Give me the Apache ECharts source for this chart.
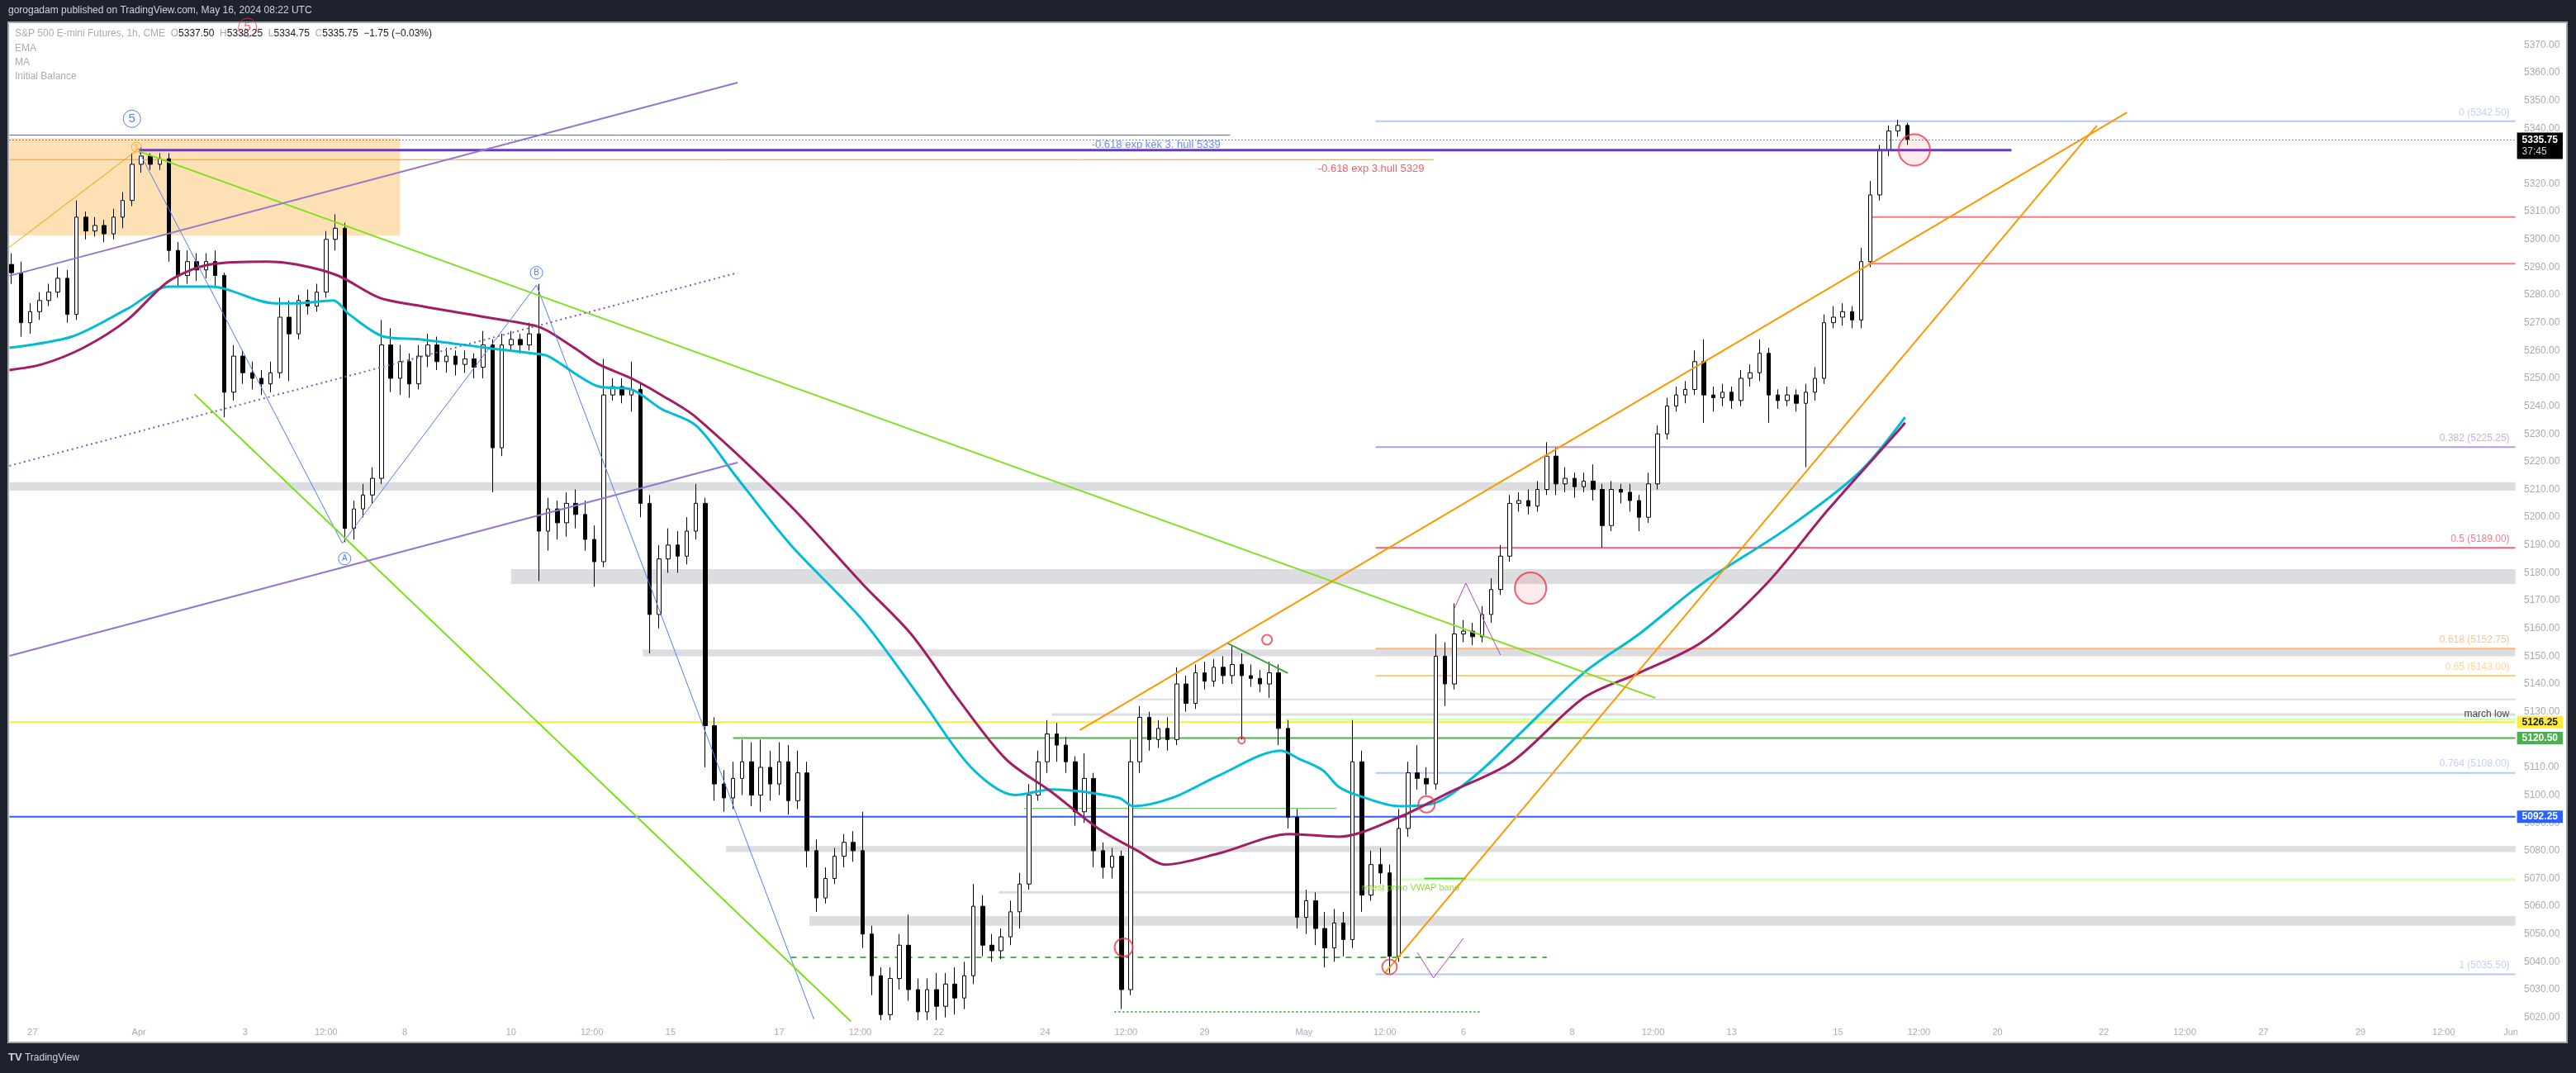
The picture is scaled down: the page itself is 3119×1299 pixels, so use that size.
<!DOCTYPE html>
<html><head><meta charset="utf-8">
<script src="https://cdn.jsdelivr.net/npm/echarts@6/dist/echarts.min.js"></script>
<style>html,body{margin:0;padding:0;background:#1e222d;}#c{width:3119px;height:1299px;}</style>
</head><body><div id="c"></div>
<script>
// ================= DATA =================
const SLOT_COUNT = 1085;      // hourly slots on the time axis (27 Mar .. 3 Jun)
const CANDLE_EVERY = 4;       // one drawn candle per 4 hourly slots
const CANDLE_OFFSET = 1;
const timeTicks = [[10,'27'],[56,'Apr'],[102,'3'],[137,'12:00'],[171,'8'],[217,'10'],[252,'12:00'],[286,'15'],
  [333,'17'],[368,'12:00'],[402,'22'],[448,'24'],[483,'12:00'],[517,'29'],[560,'May'],[595,'12:00'],[629,'6'],
  [676,'8'],[711,'12:00'],[745,'13'],[791,'15'],[826,'12:00'],[860,'20'],[906,'22'],[941,'12:00'],[975,'27'],
  [1017,'29'],[1053,'12:00'],[1082,'Jun']];
// [open, close, low, high]
const ohlc = [
[5291,5288,5284,5295],[5288,5270,5265,5292],[5270,5274,5266,5277],[5274,5278,5271,5281],[5278,5281,5276,5284],
[5281,5286,5279,5290],[5286,5273,5270,5289],[5273,5308,5271,5314],[5308,5303,5300,5310],[5303,5305,5301,5308],
[5305,5302,5299,5307],[5302,5308,5300,5311],[5308,5314,5304,5317],[5314,5327,5312,5331],[5327,5330,5324,5333],
[5330,5327,5325,5331],[5327,5329,5325,5331],[5329,5296,5292,5331],[5296,5287,5283,5299],[5287,5292,5284,5296],
[5292,5289,5285,5295],[5289,5292,5286,5295],[5292,5287,5283,5296],[5287,5245,5236,5288],[5245,5258,5242,5262],
[5258,5252,5248,5260],[5252,5250,5246,5256],[5250,5248,5244,5253],[5248,5252,5245,5256],[5252,5272,5250,5279],
[5272,5266,5249,5278],[5266,5278,5264,5280],[5278,5276,5273,5282],[5276,5281,5274,5284],[5281,5300,5279,5303],
[5300,5304,5296,5309],[5304,5196,5191,5306],[5196,5203,5192,5206],[5203,5208,5200,5212],[5208,5214,5205,5218],
[5214,5262,5212,5271],[5262,5250,5245,5268],[5250,5256,5244,5262],[5256,5248,5243,5259],[5248,5258,5246,5262],
[5258,5262,5254,5266],[5262,5256,5253,5265],[5256,5258,5252,5261],[5258,5255,5251,5260],[5255,5257,5252,5260],
[5257,5254,5250,5259],[5254,5262,5250,5267],[5262,5225,5209,5264],[5225,5262,5222,5266],[5262,5264,5260,5267],
[5264,5262,5259,5266],[5262,5266,5260,5270],[5266,5195,5177,5284],[5195,5203,5188,5207],[5203,5198,5192,5206],
[5198,5205,5193,5209],[5205,5201,5196,5210],[5201,5192,5188,5206],[5192,5184,5175,5197],[5184,5244,5182,5257],
[5244,5247,5242,5250],[5247,5244,5241,5250],[5244,5246,5238,5256],[5246,5205,5200,5248],[5205,5165,5151,5208],
[5165,5185,5160,5190],[5185,5190,5180,5196],[5190,5186,5180,5195],[5186,5195,5183,5200],[5195,5205,5192,5212],
[5205,5125,5110,5207],[5125,5104,5098,5128],[5104,5099,5094,5109],[5099,5106,5095,5112],[5106,5112,5100,5120],
[5112,5100,5096,5119],[5100,5110,5094,5120],[5110,5104,5098,5116],[5104,5112,5100,5119],[5112,5098,5093,5118],
[5098,5108,5095,5116],[5108,5080,5074,5112],[5080,5063,5058,5084],[5063,5070,5061,5074],[5070,5078,5068,5081],
[5078,5083,5074,5086],[5083,5080,5076,5087],[5080,5050,5045,5094],[5050,5035,5028,5053],[5035,5021,5019,5038],
[5021,5034,5019,5038],[5034,5046,5030,5050],[5046,5030,5026,5057],[5030,5022,5019,5034],[5022,5030,5019,5034],
[5030,5024,5019,5036],[5024,5032,5020,5036],[5032,5027,5021,5038],[5027,5035,5023,5040],[5035,5060,5032,5068],
[5060,5046,5042,5064],[5046,5044,5040,5050],[5044,5049,5041,5052],[5049,5058,5046,5062],[5058,5068,5052,5072],
[5068,5100,5066,5104],[5100,5112,5098,5116],[5112,5122,5108,5127],[5122,5118,5112,5126],[5118,5112,5108,5121],
[5112,5094,5089,5114],[5094,5106,5090,5115],[5106,5080,5074,5108],[5080,5074,5070,5083],[5074,5078,5070,5081],
[5078,5030,5023,5080],[5030,5112,5028,5120],[5112,5128,5108,5132],[5128,5120,5116,5130],[5120,5124,5117,5127],
[5124,5120,5116,5128],[5120,5140,5118,5146],[5140,5133,5130,5143],[5133,5144,5131,5147],[5144,5141,5138,5148],
[5141,5146,5139,5149],[5146,5143,5140,5150],[5143,5147,5140,5154],[5147,5143,5120,5151],[5143,5142,5139,5147],
[5142,5140,5137,5145],[5140,5144,5135,5148],[5144,5124,5118,5147],[5124,5092,5088,5127],[5092,5056,5052,5095],
[5056,5062,5050,5066],[5062,5052,5046,5065],[5052,5045,5038,5058],[5045,5054,5040,5059],[5054,5048,5042,5058],
[5048,5112,5045,5127],[5112,5064,5058,5116],[5064,5075,5062,5080],[5075,5072,5068,5081],[5072,5042,5036,5075],
[5042,5088,5040,5095],[5088,5108,5085,5112],[5108,5106,5102,5118],[5106,5104,5100,5110],[5104,5150,5102,5158],
[5150,5140,5132,5155],[5140,5158,5138,5169],[5158,5159,5155,5163],[5159,5157,5154,5162],[5157,5165,5155,5168],
[5165,5174,5162,5178],[5174,5186,5172,5190],[5186,5205,5184,5208],[5205,5206,5202,5209],[5206,5204,5201,5210],
[5204,5210,5202,5213],[5210,5222,5208,5227],[5222,5212,5208,5225],[5212,5214,5209,5218],[5214,5211,5207,5216],
[5211,5213,5209,5216],[5213,5210,5206,5219],[5210,5197,5189,5212],[5197,5210,5195,5213],[5210,5209,5205,5212],
[5209,5206,5202,5212],[5206,5200,5195,5208],[5200,5212,5198,5216],[5212,5230,5210,5233],[5230,5240,5228,5243],
[5240,5244,5238,5247],[5244,5246,5241,5249],[5246,5256,5244,5260],[5256,5244,5234,5264],[5244,5243,5238,5247],
[5243,5245,5240,5248],[5245,5242,5239,5247],[5242,5250,5240,5253],[5250,5252,5247,5255],[5252,5259,5249,5264],
[5259,5244,5234,5261],[5244,5242,5239,5246],[5242,5244,5240,5247],[5244,5241,5238,5246],[5241,5245,5218,5248],
[5245,5250,5242,5254],[5250,5270,5248,5273],[5270,5272,5268,5276],[5272,5274,5269,5277],[5274,5271,5268,5276],
[5271,5292,5268,5297],[5292,5316,5290,5321],[5316,5332,5314,5334],[5332,5339,5330,5341],[5339,5341,5337,5343],
[5341,5336,5334,5342]];
// moving averages [slot, value]
const emaCurve = [[0,5261],[27,5265],[51,5275],[69,5283],[87,5283],[115,5277],[124,5277],[140,5278],[147,5273],
  [162,5265],[178,5264],[206,5261],[226,5259],[233,5258],[246,5251],[255,5247],[269,5246],[282,5239],[297,5233],
  [314,5215],[338,5190],[369,5163],[394,5135],[416,5110],[435,5100],[451,5102],[480,5099],[486,5096],[503,5099],
  [523,5107],[550,5116],[558,5113],[568,5109],[575,5103],[583,5100],[601,5096],[616,5097],[634,5107],[652,5121],
  [681,5144],[705,5158],[732,5176],[769,5196],[800,5216],[820,5236]];
const maCurve = [[0,5253],[14,5255],[32,5261],[51,5271],[69,5285],[87,5291],[111,5292],[124,5291],[142,5287],
  [160,5279],[178,5276],[206,5272],[227,5269],[233,5267],[246,5260],[255,5255],[269,5250],[282,5244],[297,5236],
  [338,5204],[369,5176],[390,5158],[410,5135],[431,5113],[451,5101],[471,5088],[488,5080],[500,5075],[523,5079],
  [554,5086],[575,5085],[601,5092],[623,5101],[650,5112],[681,5135],[705,5144],[732,5155],[760,5176],[787,5203],
  [818,5232],[820,5234]];
const fibLevels = [['0',5342.5],['0.382',5225.25],['0.5',5189],['0.618',5152.75],['0.65',5143],['0.764',5108],['1',5035.5]];
const fibSpan = [591, 1084];
const greyZones = [[0,1084,5209.6,5212.6],[217,1084,5176,5181.3],[274,1084,5150,5152.4],[310,1084,5079.5,5081.7],[346,1084,5053,5056.5]];
const supplyZone = [0,169,5301.4,5336.4];
const levels = {
  kek:[0,528,5337.5], hull:[0,616,5328.7], purple:[56,866,5332.1], last:[0,1084,5335.75],
  redA:[804,1084,5308], redB:[804,1084,5291.25], marchLow:[451,1084,5129], grey5134:[488,1084,5134.4],
  yellow:[0,1084,5126.25], lightGreen:[552,1084,5127.2], green:[313,1084,5120.5], thinGreen:[439,574,5095.2],
  blue:[0,1084,5092.25], grey5065:[428,590,5065], vwap:[596,1084,5069.6], vwapShort:[612,630,5070],
  greenDash:[338,665,5041.6], greenDot:[478,637,5022]
};
const trends = {
  orangeLeft:[[0,5297.2],[56,5332.6]],
  wave:[[56,5331.7],[144,5190.6],[228,5283.6],[348,5019.3]],
  greenUpper:[[56,5331.7],[712,5135.0]], greenLower:[[80,5244.3],[364,5018.6]],
  purpleUpper:[[0,5286.9],[315,5356.4]], purpleMid:[[0,5218.5],[315,5288.0]], purpleLower:[[0,5150.1],[315,5219.7]],
  orangeA:[[463,5123.4],[916,5345.7]], orangeB:[[595,5036.0],[903,5341.0]],
  greenTop:[[527,5154.6],[553,5143.9]],
  zigA:[[625,5167.1],[630,5176.3],[645,5150.4]], zigB:[[609,5043.4],[616,5034.2],[629,5048.5]]
};
const ringMarks = [[544,5155.9],[533,5119.7],[482,5045.2],[613,5096.7],[597,5038.2]];
const dotMarks = [[658,5174.5],[824,5332.2]];
const waveLabels = [['5',53,5343.4],['A',145,5185.1],['B',228,5288.0]];
const fiveMarks = [[55,5333.2],[103,5376.3]];
const notes = [['-0.618 exp kék 3. hull 5339',496,5334.1],['-0.618 exp 3.hull 5329',589,5325.4],['retest prmo VWAP band',583,5066.6]];

// ================= CHART =================
const FONT = 'Liberation Sans';
const tickLabel = {}; timeTicks.forEach(t => tickLabel[t[0]] = t[1]);
const slotNames = Array.from({length: SLOT_COUNT}, (_, i) => 's' + i);
const candleData = ohlc.map((r, i) => [i * CANDLE_EVERY + CANDLE_OFFSET, r[0], r[1], r[2], r[3]]);

function seg(pts, color, width, type, z, extra) {
  return Object.assign({type:'line', data: pts, symbol:'none', showSymbol:false, silent:true,
    lineStyle:{color: color, width: width, type: type || 'solid'}, z: z || 3}, extra || {});
}
function hl(key, color, width, type, z, extra) {
  const l = levels[key];
  return seg([[l[0], l[2]], [l[1], l[2]]], color, width, type, z, extra);
}
function boxLabel(bg, fg) {
  return {endLabel:{show:true, distance:2, formatter: p => p.value[1].toFixed(2), backgroundColor:bg, color:fg,
    padding:[2,6,1,6], fontSize:12, fontFamily:FONT, fontWeight:'bold'}};
}

const series = [];
// zones
series.push({type:'line', data:[[0, 5200]], symbol:'none', showSymbol:false, lineStyle:{opacity:0}, z:1, silent:true,
  markArea:{silent:true, label:{show:false},
    data: greyZones.map(g => [{coord:[g[0], g[3]], itemStyle:{color:'#dcdde0'}}, {coord:[g[1], g[2]]}])
      .concat([[{coord:[supplyZone[0], supplyZone[3]], itemStyle:{color:'#fde0b4'}}, {coord:[supplyZone[1], supplyZone[2]]}]])}});
// fib levels
const fibColors = ['#b4c6fa','#b39ddb','#f35d6e','#fdb37a','#ffcc80','#b4c6fa','#b4c6fa'];
fibLevels.forEach((f, i) => series.push(seg([[fibSpan[0], f[1]], [fibSpan[1], f[1]]], fibColors[i], 2, 'solid', 2)));
series.push({type:'scatter', silent:true, z:6, symbolSize:1, itemStyle:{color:'rgba(0,0,0,0)'},
  data: fibLevels.map((f, i) => ({value:[fibSpan[1], f[1]], label:{show:true, position:'top', align:'right', distance:4,
    offset:[-7, 0], formatter: f[0] + ' (' + f[1].toFixed(2) + ')', color: fibColors[i], fontSize:12, fontFamily:FONT}}))});
// horizontal levels
series.push(hl('redA', '#f7787e', 2, 'solid', 2));
series.push(hl('redB', '#f7787e', 2, 'solid', 2));
series.push(hl('grey5134', '#dcdde0', 2, 'solid', 2));
series.push(hl('marchLow', '#dcdde0', 3, 'solid', 2));
series.push(hl('grey5065', '#dcdde0', 3, 'solid', 2));
series.push(hl('lightGreen', '#d4ffb0', 3, 'solid', 2));
series.push(hl('vwap', '#d4ffb8', 3, 'solid', 2));
series.push(hl('vwapShort', '#4cd137', 2, 'solid', 3));
series.push(hl('thinGreen', '#4caf50', 1, 'solid', 2));
series.push(hl('greenDash', '#4caf50', 2, [7,7], 3));
series.push(hl('greenDot', '#4caf50', 2, [2,3], 3));
series.push(hl('yellow', '#ffeb3b', 2, 'solid', 3, boxLabel('#ffeb3b', '#131722')));
series.push(hl('green', '#4caf50', 2, 'solid', 3, boxLabel('#4caf50', '#ffffff')));
series.push(hl('blue', '#2962ff', 2, 'solid', 3, boxLabel('#2962ff', '#ffffff')));
series.push(hl('kek', '#2962ff', 1, 'solid', 3));
series.push(hl('hull', '#ff9800', 1, 'solid', 3));
series.push(hl('purple', '#673ab7', 3, 'solid', 4));
series.push(hl('last', '#131722', 1, [1,3], 5, {endLabel:{show:true, distance:2, offset:[0,7],
  formatter: p => '{a|' + p.value[1].toFixed(2) + '}\n{b|37:45}', backgroundColor:'#000000', padding:[2,6,2,6],
  rich:{a:{color:'#ffffff', fontWeight:'bold', fontSize:12, fontFamily:FONT, lineHeight:14},
        b:{color:'#d1d4dc', fontSize:12, fontFamily:FONT, lineHeight:14}}}}));
// march low text
series.push({type:'scatter', silent:true, z:6, symbolSize:1, itemStyle:{color:'rgba(0,0,0,0)'},
  data:[{value:[levels.marchLow[1], levels.marchLow[2]], label:{show:true, position:'left', distance:7,
    formatter:'march low', color:'#131722', fontSize:12, fontFamily:FONT}}]});
// candles
series.push({type:'candlestick', data: candleData, encode:{x:0, y:[1,2,3,4]}, barWidth:5, z:3, silent:true,
  itemStyle:{color:'#ffffff', color0:'#000000', borderColor:'#000000', borderColor0:'#000000', borderWidth:1}});
// moving averages
series.push(seg(emaCurve, '#00bcd4', 3, 'solid', 4, {smooth:0.3}));
series.push(seg(maCurve, '#a21d63', 3, 'solid', 4, {smooth:0.3}));
// trend lines
series.push(seg(trends.orangeLeft, '#ff9800', 1, 'solid', 5));
series.push(seg(trends.wave, '#4c7dff', 1, 'solid', 5));
series.push(seg(trends.greenUpper, '#7ee01a', 2, 'solid', 5));
series.push(seg(trends.greenLower, '#7ee01a', 2, 'solid', 5));
series.push(seg(trends.purpleUpper, '#9575cd', 2, 'solid', 5));
series.push(seg(trends.purpleMid, '#7e57c2', 2, [2,4], 5));
series.push(seg(trends.purpleLower, '#9575cd', 2, 'solid', 5));
series.push(seg(trends.orangeA, '#ff9800', 2, 'solid', 5));
series.push(seg(trends.orangeB, '#ff9800', 2, 'solid', 5));
series.push(seg(trends.greenTop, '#43a047', 2, 'solid', 5));
series.push(seg(trends.zigA, '#ab47bc', 1, 'solid', 5));
series.push(seg(trends.zigB, '#ab47bc', 1, 'solid', 5));
// red rings and dots
const ringSizes = [12, 8, 22, 20, 18];
series.push({type:'scatter', silent:true, z:6, data: ringMarks.map((r, i) => ({value:r, symbolSize:ringSizes[i]})),
  itemStyle:{color:'rgba(0,0,0,0)', borderColor:'#f23645', borderWidth:2}});
series.push({type:'scatter', silent:true, z:6, data: dotMarks, symbolSize:38,
  itemStyle:{color:'rgba(242,54,69,0.12)', borderColor:'#f23645', borderWidth:2}});
// wave labels
series.push({type:'scatter', silent:true, z:7,
  data: waveLabels.map((w, i) => ({value:[w[1], w[2]], symbolSize: i === 0 ? 21 : 15,
    label:{formatter:w[0], fontSize: i === 0 ? 15 : 10}})),
  itemStyle:{color:'#ffffff', borderColor:'#2962ff', borderWidth:1},
  label:{show:true, position:'inside', color:'#2962ff', fontFamily:FONT}});
const fiveColors = ['#ff9800', '#f23645'];
series.push({type:'scatter', silent:true, z:7,
  data: fiveMarks.map((m, i) => ({value:m, symbolSize: i === 0 ? 12 : 22,
    itemStyle:{color:'rgba(0,0,0,0)', borderColor:fiveColors[i], borderWidth:1},
    label:{show:true, position:'inside', formatter:'5', color:fiveColors[i], fontSize: i === 0 ? 9 : 15, fontFamily:FONT}}))});
// notes
const noteColors = ['#3d6bff', '#f23645', '#76d60a'];
series.push({type:'scatter', silent:true, z:7, symbolSize:1, itemStyle:{color:'rgba(0,0,0,0)'},
  data: notes.map((n, i) => ({value:[n[1], n[2]], label:{show:true, position: i === 2 ? 'right' : 'inside',
    formatter:n[0], color:noteColors[i], fontSize: i === 2 ? 11 : 13, fontFamily:FONT}}))});

const option = {
  animation:false,
  backgroundColor:'#1e222d',
  grid:{left:10, top:20.66, width:3037, height:1244.68, containLabel:false, outerBoundsMode:'none'},
  xAxis:{type:'category', data:slotNames, boundaryGap:true, offset:-26,
    axisLine:{show:false}, axisTick:{show:false}, splitLine:{show:false},
    axisLabel:{interval:(idx) => tickLabel[idx] !== undefined, formatter:(v) => tickLabel[+v.slice(1)] || '',
      color:'#a8abb4', fontSize:11, fontFamily:FONT, margin:5, hideOverlap:false}},
  yAxis:{type:'value', position:'right', min:5010, max:5380, interval:10, scale:true,
    splitLine:{show:false}, axisLine:{show:false}, axisTick:{show:false},
    axisLabel:{color:'#a8abb4', fontSize:12, fontFamily:FONT, margin:9, formatter:(v) => v.toFixed(2),
      showMinLabel:false, showMaxLabel:false, hideOverlap:false}},
  graphic:[
    {type:'rect', z:-10, shape:{x:10, y:27, width:3098, height:1235}, style:{fill:'#ffffff', stroke:'#a3a6af', lineWidth:2}},
    {type:'text', z:10, left:10, top:7, style:{text:'gorogadam published on TradingView.com, May 16, 2024 08:22 UTC',
      fill:'#d1d4dc', font:'12px "Liberation Sans"'}},
    {type:'text', z:10, left:18, top:35, style:{
      text:'{g|S&P 500 E-mini Futures, 1h, CME  O}{v|5337.50}{g|  H}{v|5338.25}{g|  L}{v|5334.75}{g|  C}{v|5335.75}{v|  −1.75 (−0.03%)}',
      rich:{g:{fill:'#a8abb4', font:'12px "Liberation Sans"'}, v:{fill:'#131722', font:'12px "Liberation Sans"'}}}},
    {type:'text', z:10, left:18, top:53, style:{text:'EMA', fill:'#a8abb4', font:'12px "Liberation Sans"'}},
    {type:'text', z:10, left:18, top:70, style:{text:'MA', fill:'#a8abb4', font:'12px "Liberation Sans"'}},
    {type:'text', z:10, left:18, top:87, style:{text:'Initial Balance', fill:'#a8abb4', font:'12px "Liberation Sans"'}},
    {type:'text', z:10, left:10, top:1274, style:{text:'{t|TV} {n|TradingView}',
      rich:{t:{fill:'#d1d4dc', font:'bold 13px "Liberation Sans"'}, n:{fill:'#d1d4dc', font:'12px "Liberation Sans"'}}}}
  ],
  series: series
};
const chart = echarts.init(document.getElementById('c'), null, {width:3119, height:1299});
chart.setOption(option);
</script>
</body></html>
